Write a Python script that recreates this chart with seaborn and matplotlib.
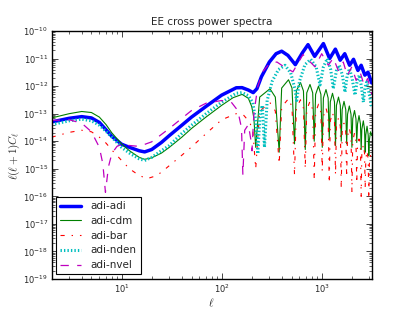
import matplotlib
matplotlib.use("Agg")
import matplotlib.pyplot as plt
import matplotlib.ticker as mticker
import seaborn as sns

# values (l, l(l+1)C_l)
ell_adi = [2, 3, 4, 5, 6, 7, 8, 10, 12, 15, 17, 20, 25, 30, 40, 50, 70, 100, 140, 160, 185, 207,
           225, 250, 300, 350, 398, 460, 545, 640, 730, 850, 1040, 1200, 1370,
           1530, 1700, 1900, 2080, 2300, 2480, 2700, 2900, 3160]
cl_adi = [5e-14, 6.8e-14, 7.8e-14, 7e-14, 4.8e-14, 2.6e-14, 1.5e-14, 7.8e-15, 6e-15, 4.5e-15, 4.1e-15,
          5e-15, 9e-15, 1.6e-14, 3.8e-14, 7.5e-14, 1.85e-13, 4.7e-13, 8.7e-13, 8.8e-13, 7.2e-13, 5.8e-13,
          8e-13, 2.2e-12, 7.5e-12, 1.5e-11, 1.85e-11, 1.3e-11, 6e-12, 1.6e-11, 3.2e-11, 1.2e-11,
          3.5e-11, 1e-11, 2.2e-11, 8.7e-12, 1.5e-11, 5.7e-12, 9.4e-12,
          3.7e-12, 5.7e-12, 2.5e-12, 3.2e-12, 1.3e-12]

ell_cdm = [2, 3, 4, 5, 6, 7, 8, 10, 12, 15, 17, 20, 25, 30, 40, 50, 70, 100, 130, 160, 185, 200, 210, 219,
           240, 304, 344, 376, 398, 466, 505, 535, 558, 614, 657, 685, 709, 764, 813, 842,
           869, 929, 982, 1013, 1040, 1104, 1160, 1190, 1219, 1282, 1342, 1374, 1404, 1472, 1535, 1568,
           1601, 1671, 1740, 1776, 1812, 1888, 1964, 2004, 2042, 2128, 2200, 2241, 2279, 2360, 2440, 2480,
           2518, 2606, 2679, 2720, 2758, 2838, 2915, 2955, 2995, 3076, 3160]
cl_cdm = [7e-14, 1e-13, 1.2e-13, 1.1e-13, 7.5e-14, 4e-14, 2e-14, 8e-15, 4.5e-15, 2.6e-15, 2.2e-15, 2.5e-15,
          3.7e-15, 6e-15, 1.4e-14, 2.9e-14, 7.6e-14, 2e-13, 3.8e-13, 5e-13, 3.6e-13, 1.8e-13, 7e-14, 6e-15,
          4e-13, 8e-13, 4e-13, 4e-15, 8.5e-13, 1.7e-12, 8.5e-13, 8e-15, 6.7e-13, 1.35e-12, 6.7e-13, 5e-15,
          5.7e-13, 1.15e-12, 5.7e-13, 1e-14, 5e-13, 1e-12, 5e-13, 6e-15, 3.7e-13, 7.5e-13, 3.7e-13, 1.2e-14,
          2.7e-13, 5.5e-13, 2.7e-13, 7e-15, 2e-13, 4e-13, 2e-13, 1e-14, 1.4e-13, 2.8e-13, 1.4e-13, 8e-15,
          9.5e-14, 1.9e-13, 9.5e-14, 6e-15, 6.5e-14, 1.3e-13, 6.5e-14, 9e-15, 4.2e-14, 8.5e-14, 4.2e-14, 5e-15,
          2.7e-14, 5.5e-14, 2.7e-14, 4e-15, 1.7e-14, 3.5e-14, 1.7e-14, 3e-15, 1.1e-14, 2.2e-14, 1.6e-14]

ell_bar = [2, 3, 4, 5, 6, 7, 8, 10, 12, 15, 18, 22, 25, 30, 40, 50, 70, 100, 140, 165, 190, 205, 219,
           240, 304, 344, 376, 398, 466, 505, 535, 558, 614, 657, 685, 709, 764, 813, 842,
           869, 929, 982, 1013, 1040, 1104, 1160, 1190, 1219, 1282, 1342, 1374, 1404, 1472, 1535, 1568,
           1601, 1671, 1740, 1776, 1812, 1888, 1964, 2004, 2042, 2128, 2200, 2241, 2279, 2360, 2440, 2480,
           2518, 2606, 2679, 2720, 2758, 2838, 2915, 2955, 2995, 3076, 3160]
cl_bar = [1.4e-14, 2.1e-14, 2.5e-14, 2.2e-14, 1.4e-14, 8.5e-15, 4.8e-15, 2e-15, 1e-15, 5.7e-16, 4.4e-16,
          5.5e-16, 7.5e-16, 1.3e-15, 3.1e-15, 6.2e-15, 1.9e-14, 6e-14, 1e-13, 9e-14, 5e-14, 2.5e-14, 1e-15,
          1.25e-13, 2.5e-13, 1.25e-13, 1.5e-15, 1.75e-13, 3.5e-13, 1.75e-13, 6e-16, 1.6e-13, 3.2e-13, 1.6e-13, 1e-15,
          1.4e-13, 2.8e-13, 1.4e-13, 4e-16, 1.1e-13, 2.2e-13, 1.1e-13, 8e-16, 8e-14, 1.6e-13, 8e-14, 3e-16,
          5.5e-14, 1.1e-13, 5.5e-14, 6e-16, 3.5e-14, 7e-14, 3.5e-14, 2e-16, 2.2e-14, 4.5e-14, 2.2e-14, 5e-16,
          1.5e-14, 3e-14, 1.5e-14, 1.5e-16, 1e-14, 2e-14, 1e-14, 3e-16, 6e-15, 1.2e-14, 6e-15, 1e-16,
          3.7e-15, 7.5e-15, 3.7e-15, 2e-16, 2.2e-15, 4.5e-15, 2.2e-15, 8e-17, 1.5e-15, 3e-15, 2e-15]

ell_nden = [2, 3, 4, 5, 6, 7, 8, 10, 12, 15, 17, 20, 25, 30, 40, 50, 70, 100, 140, 160, 185, 205, 220, 230,
            242, 255, 268, 285, 320, 370, 430, 490, 540, 562, 600, 680, 776, 880, 962, 1040, 1138, 1230,
            1306, 1400, 1500, 1610, 1710, 1800, 1900, 2020, 2150, 2260, 2377, 2490, 2610, 2710, 2820,
            2990, 3160]
cl_nden = [4e-14, 5.5e-14, 6.3e-14, 5.5e-14, 3.8e-14, 2.3e-14, 1.4e-14, 6e-15, 3.7e-15, 2.3e-15, 2e-15,
           2.6e-15, 4.5e-15, 7e-15, 1.9e-14, 3.8e-14, 1e-13, 2.6e-13, 5.5e-13, 5.8e-13, 4.5e-13, 2.5e-13,
           5e-14, 3.5e-15, 1e-13, 2e-13, 6e-15, 3e-13, 1.5e-12, 4e-12, 5.7e-12, 3e-12, 8e-13, 3e-13,
           1.5e-12, 6e-12, 9.4e-12, 5e-12, 1.1e-12, 5e-12, 1e-11, 4e-12, 8e-13, 3.5e-12, 5.7e-12, 2.5e-12,
           6e-13, 2.5e-12, 4.3e-12, 1.8e-12, 4.7e-13, 1.5e-12, 2.5e-12, 1e-12, 2.6e-13, 9e-13, 1.4e-12,
           5e-13, 1.7e-13]

ell_nvel = [2, 3, 4, 5, 6, 6.5, 6.9, 7.4, 8, 9, 10, 12, 15, 20, 30, 50, 70, 100, 125, 145, 158, 163,
            170, 185, 197, 201, 210, 230, 260, 300, 357, 420, 516, 650, 857, 1000, 1165, 1306, 1464,
            1643, 1800, 2000, 2210, 2420, 2650, 2880, 3160]
cl_nvel = [5.7e-14, 6e-14, 4.5e-14, 2.2e-14, 6e-15, 1.5e-15, 1.4e-16, 1.2e-15, 3.6e-15, 6.5e-15, 7.7e-15,
           7e-15, 6.5e-15, 9.5e-15, 2.9e-14, 1.3e-13, 2.4e-13, 3e-13, 2.6e-13, 1.3e-13, 3e-14, 6e-16,
           2.5e-14, 4e-14, 1e-14, 4.5e-15, 1e-13, 1e-12, 3.5e-12, 6.5e-12, 7.5e-12, 5e-12, 3.3e-12, 1.4e-11,
           5e-12, 1.5e-11, 5.7e-12, 1.05e-11, 3.7e-12, 7.5e-12, 2.4e-12, 5e-12, 1.6e-12, 3.2e-12, 1.1e-12,
           1.9e-12, 5e-13]

x_major = [10, 100, 1000]
y_major = [1e-19, 1e-18, 1e-17, 1e-16, 1e-15, 1e-14, 1e-13, 1e-12, 1e-11, 1e-10]

sns.set_style("ticks")
plt.rcParams.update({
    "font.family": ["DejaVu Sans"],
    "font.size": 6,
    "mathtext.fontset": "cm",
    "xtick.direction": "in",
    "ytick.direction": "in",
    "xtick.top": True,
    "ytick.right": True,
    "axes.edgecolor": "black",
    "axes.linewidth": 1.0,
    "lines.scale_dashes": False,
})

fig = plt.figure(figsize=(4.13, 3.10), dpi=100)
ax = fig.add_axes([0.125, 0.1, 0.775, 0.8])

sns.lineplot(x=ell_adi, y=cl_adi, ax=ax, color="blue", lw=2.5, label="adi-adi")
sns.lineplot(x=ell_cdm, y=cl_cdm, ax=ax, color="green", lw=0.8, label="adi-cdm")
sns.lineplot(x=ell_bar, y=cl_bar, ax=ax, color="red", lw=0.8, label="adi-bar",
             linestyle=(0, (3, 5, 1, 5)))
sns.lineplot(x=ell_nden, y=cl_nden, ax=ax, color="c", lw=2.2, label="adi-nden",
             linestyle=(0, (1, 1.5)))
sns.lineplot(x=ell_nvel, y=cl_nvel, ax=ax, color="m", lw=0.9, label="adi-nvel",
             linestyle=(0, (6, 6)))

ax.set_xscale("log")
ax.set_yscale("log")
ax.set_xlim(2, 3160)
ax.set_ylim(1e-19, 1e-10)
ax.xaxis.set_major_locator(mticker.FixedLocator(x_major))
ax.yaxis.set_major_locator(mticker.FixedLocator(y_major))
ax.xaxis.set_major_formatter(mticker.LogFormatterSciNotation())
ax.yaxis.set_major_formatter(mticker.LogFormatterSciNotation())
ax.yaxis.set_minor_locator(mticker.LogLocator(base=10, subs=range(2, 10), numticks=20))
ax.xaxis.set_minor_formatter(mticker.NullFormatter())
ax.yaxis.set_minor_formatter(mticker.NullFormatter())
ax.tick_params(which="major", length=4, width=0.6, labelsize=6, pad=2.5)
ax.tick_params(which="minor", length=2, width=0.5)

ax.set_xlabel(r"$\ell$", fontsize=8, labelpad=1)
ax.set_ylabel(r"$\ell(\ell+1)C_\ell$", fontsize=8)
ax.yaxis.set_label_coords(-0.092, 0.5)
ax.set_title("EE cross power spectra", fontsize=7.5, pad=4)

leg = ax.legend(loc="lower left", fontsize=7.5, fancybox=False, framealpha=1,
                edgecolor="black", handlelength=2.0, handletextpad=0.9,
                borderaxespad=0.45, labelspacing=0.45)
leg.get_frame().set_linewidth(0.8)

fig.savefig("out.png", dpi=100, facecolor="white")
